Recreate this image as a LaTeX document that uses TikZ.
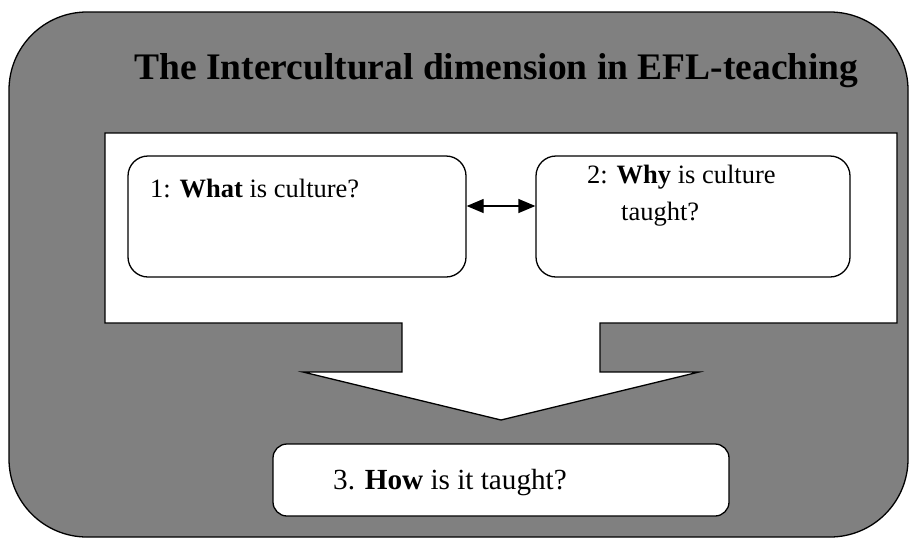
\documentclass[tikz,border=0pt]{standalone}
\usepackage{fontspec}
\setmainfont{Liberation Serif}
\usetikzlibrary{arrows.meta}
\definecolor{bggray}{HTML}{808080}
\tikzset{
  outline/.style={draw=black,line width=1.3pt},
  qbox/.style={outline,fill=white,rounded corners=20pt,inner sep=0pt},
  qtext/.style={anchor=base west,inner sep=0pt,font=\rmfamily\fontsize{26.5}{37}\selectfont},
  tip/.tip={Triangle[length=17pt,width=14pt]},
}
\begin{document}
\begin{tikzpicture}[x=1pt,y=-1pt]
\useasboundingbox (0,0) rectangle (909,539);
% outer rounded panel
\draw[outline,fill=bggray,rounded corners=78pt] (9,12) rectangle (908,537);
% title
\node[anchor=base west,inner sep=0pt,font=\rmfamily\fontsize{37.5}{45}\selectfont\bfseries] (title) at (134,79) {The Intercultural dimension in EFL-teaching};
% block arrow
\draw[outline,fill=white,line join=miter] (105,133) -- (897,133) -- (897,323) -- (600,323) -- (600,372) -- (699,372) -- (501,420) -- (303,372) -- (402,372) -- (402,323) -- (105,323) -- cycle;
% boxes
\node[qbox,minimum width=338pt,minimum height=121pt] (b1) at (297,216.5) {};
\node[qbox,minimum width=314pt,minimum height=121pt] (b2) at (693,216.5) {};
\node[qbox,rounded corners=14pt,minimum width=456pt,minimum height=72pt] (b3) at (501,480) {};
% texts
\node[qtext] (t1) at (150,197) {1: \textbf{What} is culture?};
\node[qtext] (t2a) at (587,183) {2: \textbf{Why} is culture};
\node[qtext] (t2b) at (621,220) {taught?};
\node[qtext,font=\rmfamily\fontsize{29.2}{35}\selectfont] (t3) at (333,489) {3. \textbf{How} is it taught?};
% double arrow
\draw[line width=1.3pt,tip-tip] (b1.east |- 0,206) -- (b2.west |- 0,206);
\end{tikzpicture}
\end{document}
